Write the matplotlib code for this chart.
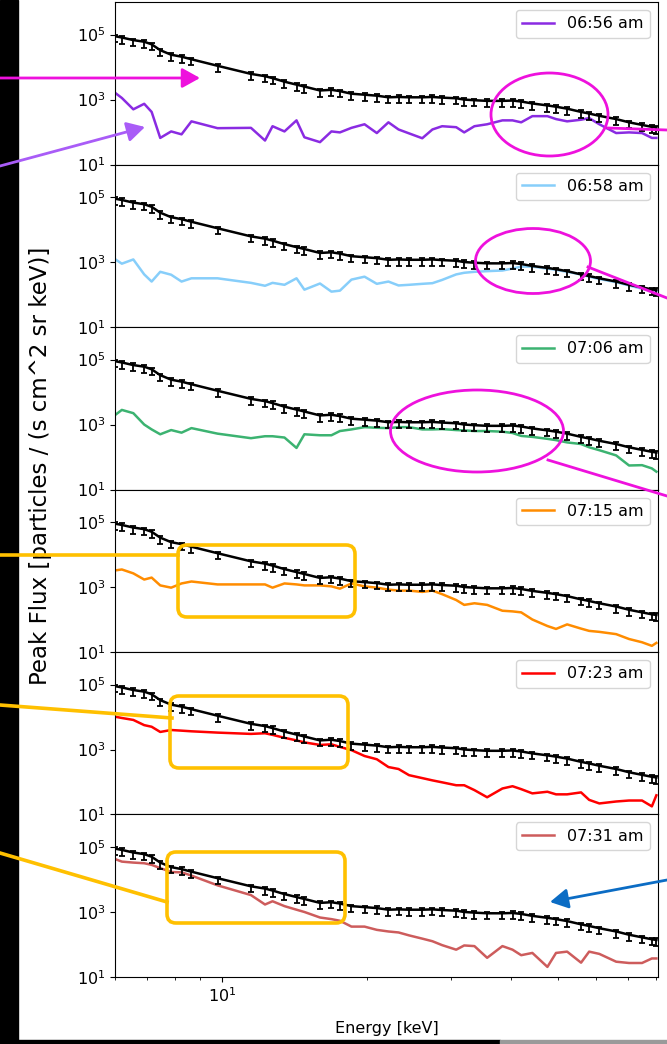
import numpy as np
import matplotlib
matplotlib.use("Agg")
import matplotlib.pyplot as plt
from matplotlib.patches import Rectangle, Ellipse, FancyBboxPatch, FancyArrowPatch
from matplotlib.ticker import NullLocator

# energy channels [keV]
energy = [6.0, 6.2, 6.55, 6.9, 7.15, 7.45, 7.85, 8.25, 8.65, 9.8,
          11.5, 12.3, 12.75, 13.5, 14.3, 14.85, 16.0, 16.9, 17.6, 18.6,
          19.8, 21.0, 22.2, 23.3, 24.5, 26.1, 27.4, 28.7, 30.7, 31.9,
          33.5, 35.6, 38.3, 40.2, 41.9, 44.2, 47.5, 49.5, 52.2, 55.8,
          58.0, 60.9, 66.0, 70.2, 74.7, 78.3, 80.0]

# log10 of the peak flux
ref_log = [4.95, 4.91, 4.83, 4.78, 4.70, 4.52, 4.38, 4.32, 4.24, 4.04,
           3.79, 3.72, 3.66, 3.55, 3.46, 3.40, 3.28, 3.30, 3.26, 3.18,
           3.15, 3.12, 3.07, 3.08, 3.07, 3.07, 3.08, 3.06, 3.04, 3.00,
           2.98, 2.96, 2.96, 2.97, 2.94, 2.88, 2.82, 2.78, 2.72, 2.62,
           2.57, 2.50, 2.40, 2.30, 2.22, 2.16, 2.14]

t0656 = [3.21, 3.05, 2.70, 2.87, 2.62, 1.82, 2.02, 1.93, 2.33, 2.12,
         2.13, 1.74, 2.18, 2.02, 2.36, 1.84, 1.69, 2.02, 1.99, 2.13,
         2.24, 1.97, 2.30, 2.08, 1.96, 1.81, 2.08, 2.18, 2.15, 1.99,
         2.18, 2.24, 2.36, 2.36, 2.30, 2.49, 2.49, 2.40, 2.33, 2.38,
         2.43, 2.24, 1.97, 1.99, 1.97, 1.82, 1.82]
t0658 = [3.09, 2.95, 3.08, 2.62, 2.40, 2.70, 2.61, 2.40, 2.50, 2.50,
         2.36, 2.27, 2.36, 2.30, 2.50, 2.15, 2.34, 2.09, 2.12, 2.46,
         2.55, 2.33, 2.40, 2.28, 2.30, 2.33, 2.35, 2.45, 2.62, 2.67,
         2.70, 2.72, 2.74, 2.80, 2.86, 2.86, 2.80, 2.76, 2.70, 2.62,
         2.55, 2.48, 2.38, 2.28, 2.18, 2.12, 2.10]
t0706 = [3.29, 3.45, 3.35, 3.00, 2.85, 2.70, 2.83, 2.75, 2.89, 2.72,
         2.58, 2.64, 2.64, 2.60, 2.28, 2.70, 2.67, 2.67, 2.80, 2.85,
         2.92, 2.90, 2.89, 2.92, 2.92, 2.85, 2.85, 2.86, 2.83, 2.82,
         2.80, 2.80, 2.78, 2.74, 2.65, 2.62, 2.56, 2.52, 2.45, 2.40,
         2.30, 2.21, 2.05, 1.74, 1.75, 1.65, 1.55]
t0715 = [3.51, 3.54, 3.42, 3.23, 3.29, 3.05, 2.98, 3.11, 3.17, 3.08,
         3.08, 3.08, 2.98, 3.11, 3.08, 3.05, 3.05, 3.02, 2.95, 3.11,
         3.02, 2.98, 2.92, 2.89, 2.89, 2.85, 2.89, 2.78, 2.60, 2.45,
         2.50, 2.45, 2.27, 2.25, 2.22, 2.00, 1.80, 1.71, 1.85, 1.72,
         1.65, 1.62, 1.55, 1.40, 1.30, 1.19, 1.28]
t0723 = [4.01, 3.97, 3.91, 3.75, 3.70, 3.54, 3.60, 3.58, 3.56, 3.52,
         3.48, 3.50, 3.45, 3.36, 3.28, 3.22, 3.14, 3.16, 3.08, 2.98,
         2.80, 2.70, 2.46, 2.40, 2.21, 2.12, 2.05, 1.99, 1.90, 1.90,
         1.75, 1.53, 1.80, 1.87, 1.78, 1.65, 1.70, 1.62, 1.62, 1.68,
         1.45, 1.34, 1.40, 1.43, 1.43, 1.25, 1.59]
t0731 = [4.63, 4.55, 4.52, 4.50, 4.45, 4.35, 4.23, 4.22, 4.12, 3.82,
         3.52, 3.23, 3.33, 3.18, 3.07, 3.00, 2.83, 2.78, 2.73, 2.55,
         2.55, 2.45, 2.40, 2.37, 2.28, 2.18, 2.10, 1.98, 1.84, 1.97,
         1.95, 1.59, 1.95, 1.84, 1.67, 1.74, 1.31, 1.74, 1.78, 1.44,
         1.78, 1.71, 1.47, 1.43, 1.43, 1.57, 1.57]

labels = ["06:56 am", "06:58 am", "07:06 am", "07:15 am", "07:23 am", "07:31 am"]
series = [t0656, t0658, t0706, t0715, t0723, t0731]
colors = ["blueviolet", "lightskyblue", "mediumseagreen", "darkorange", "red", "indianred"]

E = np.array(energy)
ref = 10 ** np.array(ref_log)

fig = plt.figure(figsize=(6.67, 10.44), dpi=100)
axs = fig.subplots(6, 1, sharex=True)
fig.subplots_adjust(left=0.1724, right=0.986, top=0.998, bottom=0.0642, hspace=0)

for ax, s, lab, c in zip(axs, series, labels, colors):
    ax.plot(E, 10 ** np.array(s), color=c, lw=1.8, label=lab)
    # small error bars, longer on the low side
    ax.errorbar(E, ref, yerr=[0.35 * ref, 0.12 * ref], color="black", lw=1.8,
                elinewidth=1.3, capsize=2, capthick=1.3)
    ax.set_xscale("log")
    ax.set_yscale("log")
    ax.set_xlim(6, 80.5)
    ax.set_ylim(10, 1e6)
    ax.set_yticks([1e1, 1e3, 1e5])
    ax.yaxis.set_minor_locator(NullLocator())
    ax.tick_params(labelsize=11.5)
    ax.legend(loc="upper right", fontsize=11.5)

fig.text(0.06, 0.554, "Peak Flux [particles / (s cm^2 sr keV)]", rotation=90,
         ha="center", va="center", fontsize=16.5)
fig.text(0.58, 0.0153, "Energy [keV]", ha="center", va="center", fontsize=11.5)

# screenshot annotations, drawn in pixel coordinates
ov = fig.add_axes([0, 0, 1, 1], zorder=10)
ov.set_xlim(0, 667)
ov.set_ylim(1044, 0)
ov.axis("off")
ov.patch.set_alpha(0)

ov.add_patch(Rectangle((0, 0), 18, 1044, color="black"))
ov.add_patch(Rectangle((0, 1040), 500, 4, color="black"))
ov.add_patch(Rectangle((500, 1040), 167, 4, color="#9a9a9a"))

mag = "#ee11dd"
amber = "#ffc000"

def arrow(p0, p1, col):
    ov.add_patch(FancyArrowPatch(p0, p1, arrowstyle="-|>,head_length=0.45,head_width=0.25",
                                 mutation_scale=24, color=col, lw=2, shrinkA=0, shrinkB=0))

arrow((0, 78), (200, 78), mag)
arrow((0, 166), (145, 127), "#a95cf7")
arrow((667, 880), (550, 902), "#0b6cc4")

ov.add_patch(Ellipse((549.5, 114.5), 117, 83, fill=False, ec=mag, lw=2))
ov.plot([608, 667], [128, 130], color=mag, lw=2)
ov.add_patch(Ellipse((533, 261), 115, 65, fill=False, ec=mag, lw=2))
ov.plot([588, 667], [267, 298], color=mag, lw=2)
ov.add_patch(Ellipse((477, 431), 173, 82, fill=False, ec=mag, lw=2))
ov.plot([548, 667], [460, 496], color=mag, lw=2)

for (x0, y0, x1, y1), line in [((178, 545, 355, 617), ((0, 178), (555, 555))),
                               ((170, 696, 348, 768), ((0, 172), (705, 718))),
                               ((167, 852, 345, 923), ((0, 167), (853, 902)))]:
    ov.add_patch(FancyBboxPatch((x0, y0), x1 - x0, y1 - y0,
                                boxstyle="round,pad=0,rounding_size=9",
                                fill=False, ec=amber, lw=2.6))
    ov.plot(line[0], line[1], color=amber, lw=2.6)

fig.savefig("out.png", dpi=100)
